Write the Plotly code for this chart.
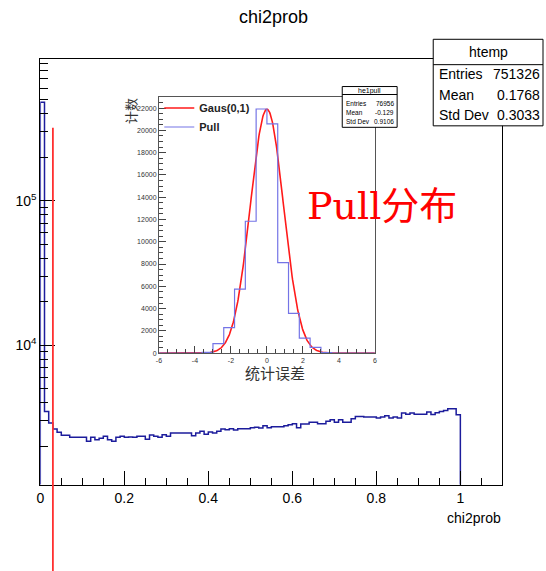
import numpy as np
import plotly.graph_objects as go

W, H = 546, 571

# ---------------- data ----------------
# chi2prob distribution (100 bins of width 0.01 on [0, 1])
chi2_bin_width = 0.01
chi2_counts = [
    482000, 3475, 2884, 2622, 2489, 2373, 2373, 2298, 2298, 2298,
    2298, 2157, 2298, 2214, 2263, 2336, 2214, 2157, 2298, 2336,
    2298, 2310, 2298, 2336, 2336, 2230, 2389, 2336, 2298, 2393,
    2336, 2462, 2462, 2462, 2462, 2462, 2357, 2462, 2528, 2415,
    2504, 2462, 2528, 2622, 2594, 2637, 2580, 2637, 2637, 2637,
    2680, 2700, 2661, 2761, 2673, 2715, 2715, 2715, 2761, 2806,
    2850, 2673, 2836, 2836, 2918, 2918, 2850, 2850, 2965, 3041,
    2918, 3041, 2918, 2918, 3090, 3207, 3207, 3172, 3172, 3172,
    3123, 3172, 3238, 3123, 3172, 3123, 3381, 3326, 3381, 3326,
    3326, 3326, 3435, 3300, 3400, 3473, 3529, 3620, 3620, 3289,
]
chi2_cut = 0.03          # vertical cut marker
chi2_cut_top = 3.2e5     # upper end of the cut marker

# pull distribution (20 bins of width 0.6 on [-6, 6])
pull_lo, pull_bin_width = -6.0, 0.6
pull_counts = [
    0, 0, 0, 0, 60, 850, 2290, 5740, 11840, 21920,
    20580, 8120, 3570, 1340, 510, 40, 0, 0, 0, 0,
]
# gaussian drawn on top of the pull histogram
gaus_amp, gaus_mean, gaus_sigma = 21900.0, 0.0, 0.92

x_tick_vals = [0, 0.2, 0.4, 0.6, 0.8, 1.0]
x_tick_text = ["0", "0.2", "0.4", "0.6", "0.8", "1"]
y_tick_vals = [1e4, 1e5]
y_tick_text = ["10<sup>4</sup>", "10<sup>5</sup>"]
pull_x_ticks = [-6, -4, -2, 0, 2, 4, 6]
pull_x_text = ["-6", "-4", "-2", "0", "2", "4", "6"]

stats_main = [("Entries", "751326"), ("Mean", "0.1768"), ("Std Dev", "0.3033")]
stats_pull = [("Entries", "76956"), ("Mean", "-0.129"), ("Std Dev", "0.9106")]

# ---------------- helpers ----------------
def px(x):
    return x / W


def py(y):
    return 1 - y / H


FONT = "Liberation Sans, Arial, sans-serif"

# ---------------- main histogram ----------------
n = len(chi2_counts)
edges = np.arange(n + 1) * chi2_bin_width
ymin = 0.5 * min(chi2_counts)
ymax = 2.0 * max(chi2_counts)
yr = [np.log10(ymin), np.log10(ymax)]

hx = [edges[0]] + list(edges[:n]) + [edges[n], edges[n]]
hy = [ymin] + list(chi2_counts) + [chi2_counts[-1], ymin]

fig = go.Figure()
fig.add_trace(go.Scatter(
    x=hx, y=hy, mode="lines", line=dict(color="#1c1c9c", width=1.5, shape="hv"),
    showlegend=False, xaxis="x", yaxis="y", hoverinfo="skip"))

# ---------------- inset: pull ----------------
m = len(pull_counts)
pedges = pull_lo + np.arange(m + 1) * pull_bin_width
phx = [pedges[0]] + list(pedges[:m]) + [pedges[m], pedges[m]]
phy = [0] + list(pull_counts) + [pull_counts[-1], 0]

gx = np.linspace(pedges[0], pedges[-1], 481)
gy = gaus_amp * np.exp(-0.5 * ((gx - gaus_mean) / gaus_sigma) ** 2)

fig.add_trace(go.Scatter(
    x=gx, y=gy, mode="lines", line=dict(color="#ff1a1a", width=1.6),
    name="Gaus(0,1)", xaxis="x2", yaxis="y2", hoverinfo="skip"))
fig.add_trace(go.Scatter(
    x=phx, y=phy, mode="lines", line=dict(color="#7474e6", width=1.2, shape="hv"),
    name="Pull", xaxis="x2", yaxis="y2", hoverinfo="skip"))

# ---------------- layout ----------------
main_x_dom = [px(36.7), px(503.9)]
main_y_dom = [py(487.3), py(59)]
ins_x_dom = [px(156.7), px(375)]
ins_y_dom = [py(355), py(97.3)]

minor_log = [k * 10 ** e for e in (3, 4, 5) for k in range(2, 10)
             if yr[0] <= np.log10(k * 10 ** e) <= yr[1]]

fig.update_layout(
    width=W, height=H, margin=dict(l=0, r=0, t=0, b=0),
    paper_bgcolor="white", plot_bgcolor="rgba(0,0,0,0)",
    font=dict(family=FONT, color="black"),
    xaxis=dict(domain=main_x_dom, range=[0, 1.1], anchor="y",
               showline=True, linecolor="black", linewidth=1, mirror=True,
               ticks="inside", ticklen=14, tickcolor="black",
               tickvals=x_tick_vals, ticktext=x_tick_text,
               tickfont=dict(size=14, family=FONT),
               minor=dict(dtick=0.05, tick0=0, ticks="inside", ticklen=7, tickcolor="black"),
               showgrid=False, zeroline=False),
    yaxis=dict(domain=main_y_dom, type="log", range=yr, anchor="x",
               showline=True, linecolor="black", linewidth=1, mirror=True,
               ticks="inside", ticklen=15, tickcolor="black",
               tickvals=y_tick_vals, ticktext=y_tick_text,
               tickfont=dict(size=14, family=FONT),
               minor=dict(tickvals=minor_log, ticks="inside", ticklen=8, tickcolor="black"),
               showgrid=False, zeroline=False),
    xaxis2=dict(domain=ins_x_dom, range=[pedges[0], pedges[-1]], anchor="y2",
                showline=True, linecolor="#555", linewidth=1, mirror=True,
                ticks="inside", ticklen=7, tickcolor="#444",
                tickvals=pull_x_ticks, ticktext=pull_x_text,
                tickfont=dict(size=7, family=FONT, color="#333"),
                minor=dict(dtick=0.5, tick0=0, ticks="inside", ticklen=4, tickcolor="#444"),
                showgrid=False, zeroline=False),
    yaxis2=dict(domain=ins_y_dom, range=[0, 1.05 * max(pull_counts)], anchor="x2",
                showline=True, linecolor="#555", linewidth=1, mirror=True,
                ticks="inside", ticklen=7, tickcolor="#444",
                dtick=2000, tick0=0, tickformat="d",
                tickfont=dict(size=7, family=FONT, color="#333"),
                minor=dict(dtick=500, tick0=0, ticks="inside", ticklen=4, tickcolor="#444"),
                showgrid=False, zeroline=False),
    legend=dict(x=px(157), y=py(94), xanchor="left", yanchor="top",
                bgcolor="rgba(0,0,0,0)", borderwidth=0,
                font=dict(family=FONT, size=11, color="#222", weight="bold"),
                itemwidth=30, tracegroupgap=0),
)

shapes = []
annotations = []

# cut marker on the main histogram, running below the frame
yfrac = (np.log10(chi2_cut_top) - yr[0]) / (yr[1] - yr[0])
shapes.append(dict(type="line", xref="x", yref="paper",
                   x0=chi2_cut, x1=chi2_cut, y0=-0.05,
                   y1=main_y_dom[0] + yfrac * (main_y_dom[1] - main_y_dom[0]),
                   line=dict(color="#ff3030", width=1.8)))


def stats_box(x0, x1, y0, ysep, y1, title, rows, tsize, rsize, ty, rys, lx, rx):
    shapes.append(dict(type="rect", xref="paper", yref="paper",
                       x0=px(x0), x1=px(x1), y0=py(y1), y1=py(y0),
                       line=dict(color="black", width=1), fillcolor="white", layer="above"))
    shapes.append(dict(type="line", xref="paper", yref="paper",
                       x0=px(x0), x1=px(x1), y0=py(ysep), y1=py(ysep),
                       line=dict(color="black", width=1), layer="above"))
    annotations.append(dict(text=title, x=px((x0 + x1) / 2), y=py(ty), xref="paper", yref="paper",
                            xanchor="center", yanchor="middle", showarrow=False,
                            font=dict(size=tsize, family=FONT, color="black")))
    for (lab, val), yy in zip(rows, rys):
        annotations.append(dict(text=lab, x=px(lx), y=py(yy), xref="paper", yref="paper",
                                xanchor="left", yanchor="middle", showarrow=False,
                                font=dict(size=rsize, family=FONT, color="black")))
        annotations.append(dict(text=val, x=px(rx), y=py(yy), xref="paper", yref="paper",
                                xanchor="right", yanchor="middle", showarrow=False,
                                font=dict(size=rsize, family=FONT, color="black")))


stats_box(434, 545, 39.5, 65, 126.5, "htemp", stats_main, 14, 14, 52, [74, 96, 116], 438, 544)
stats_box(342, 397.5, 87, 95, 128, "he1pull", stats_pull, 7, 6.5, 91, [104, 113.5, 122.5], 344, 396)

# titles and labels
annotations += [
    dict(text="chi2prob", x=px(272), y=py(17), xref="paper", yref="paper",
         xanchor="center", yanchor="middle", showarrow=False, font=dict(size=18, family=FONT)),
    dict(text="chi2prob", x=px(505), y=py(521), xref="paper", yref="paper",
         xanchor="right", yanchor="middle", showarrow=False, font=dict(size=14, family=FONT)),
    dict(text="统计误差", x=px(274), y=py(374), xref="paper", yref="paper",
         xanchor="center", yanchor="middle", showarrow=False,
         font=dict(size=15, family="Noto Sans CJK SC", color="#333")),
    dict(text="计数", x=px(128), y=py(112), xref="paper", yref="paper", textangle=-90,
         xanchor="center", yanchor="middle", showarrow=False,
         font=dict(size=13, family="Noto Sans CJK SC", color="#333")),
    dict(text="Pull分布", x=px(304), y=py(207), xref="paper", yref="paper",
         xanchor="left", yanchor="middle", showarrow=False,
         font=dict(size=38, family="DejaVu Serif, Noto Sans CJK SC", color="#ff0000")),
]

fig.update_layout(shapes=shapes, annotations=annotations)
fig.write_html("out.html")
